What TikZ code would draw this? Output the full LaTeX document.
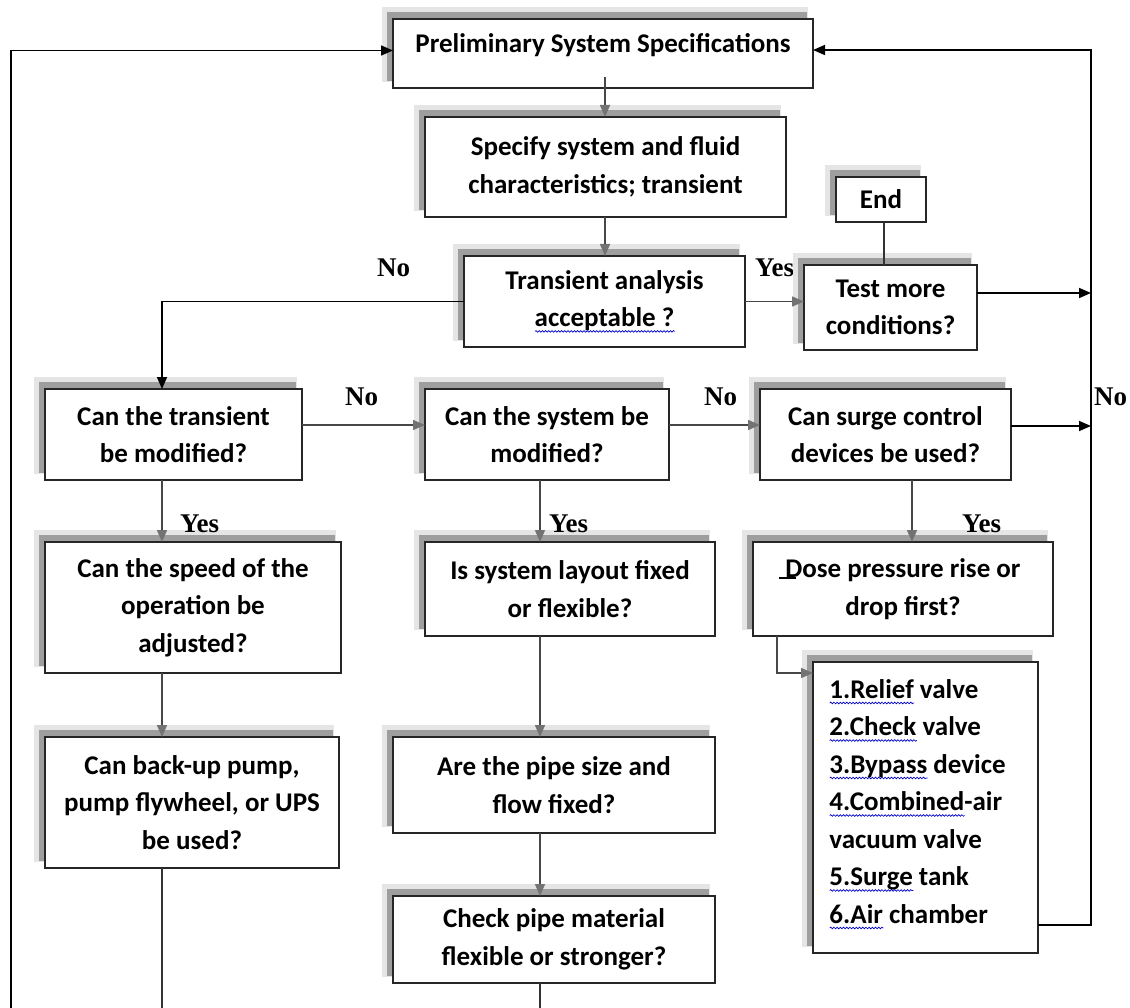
\documentclass[tikz,border=0pt]{standalone}
\usepackage{fontspec}
\setmainfont{Carlito}
\newfontfamily\labelfont{Liberation Serif}
\usetikzlibrary{arrows.meta,decorations.pathmorphing}
\newlength\spelllen
\newcommand\spell[1]{\settowidth\spelllen{#1}\rlap{\tikz[baseline=0pt]\draw[draw=blue!80!black,line width=0.7pt,decorate,decoration={snake,amplitude=0.8pt,segment length=3.2pt}](0pt,-4.5pt)--(\spelllen,-4.5pt);}#1}
\begin{document}
\begin{tikzpicture}[x=1pt,y=-1pt,
 box/.style={draw=black!85,line width=1.5pt,fill=white,align=center,inner sep=0pt,outer sep=0pt,anchor=north west,
   font=\fontsize{27}{37.5}\selectfont\bfseries,
   preaction={fill=black!10,draw=black!10,line width=6pt,transform canvas={xshift=-8pt,yshift=9pt}},
   preaction={fill=black!38,transform canvas={xshift=-6pt,yshift=7pt}}},
 yn/.style={font=\labelfont\bfseries\fontsize{27}{30}\selectfont,inner sep=0pt,anchor=base west},
 conn/.style={draw=black!72,line width=1.5pt,-{Triangle[length=12pt,width=10pt,color=black!55]}},
 plain/.style={draw=black!80,line width=1.5pt},
 loopar/.style={draw=black,line width=1.6pt,-{Triangle[length=12pt,width=10pt]}}]
\fill[white] (0,0) rectangle (1130,1008);
\useasboundingbox (0,0) rectangle (1130,1008);
% helper coordinates
\coordinate (c1) at (162,1008);
\coordinate (c2) at (540,1008);
\coordinate (c3) at (912,0);
\coordinate (c4) at (777,673);
\coordinate (cx) at (605,0);
\coordinate (ex) at (884,0);
\coordinate (bl) at (11,1008);
\coordinate (r0) at (1091,50);
\coordinate (r1) at (1091,925);
\coordinate (r2) at (1091,426);
\coordinate (r3) at (1091,293);
\coordinate (ry) at (0,425);
% label drawn under the Test box shadow
\node[yn] (yes1) at (755,277) {Yes};
% boxes
\node[box,minimum width=420pt,minimum height=69pt,text depth=20pt] (P) at (393,19) {Preliminary System Specifications};
\node[box,minimum width=361pt,minimum height=100pt] (S) at (425,117) {Specify system and fluid\\characteristics; transient};
\node[box,minimum width=281pt,minimum height=91pt] (T) at (464,256) {Transient analysis\\\spell{acceptable ?}};
\node[box,minimum width=90pt,minimum height=45pt] (E) at (836,177) {End};
\node[box,minimum width=173pt,minimum height=85pt] (TM) at (804,265) {Test more\\conditions?};
\node[box,minimum width=257pt,minimum height=91pt] (CT) at (45,389) {Can the transient\\be modified?};
\node[box,minimum width=244pt,minimum height=91pt] (CS) at (425,389) {Can the system be\\modified?};
\node[box,minimum width=251pt,minimum height=91pt] (CD) at (760,389) {Can surge control\\devices be used?};
\node[box,minimum width=296pt,minimum height=131pt] (SP) at (45,542) {Can the speed of the\\operation be\\adjusted?};
\node[box,minimum width=290pt,minimum height=94pt] (IS) at (425,542) {Is system layout fixed\\or flexible?};
\node[box,minimum width=300pt,minimum height=94pt] (DO) at (753,542) {\rlap{\hspace*{-6pt}\rule[-1pt]{17pt}{1.3pt}}Dose pressure rise or\\drop first?};
\node[box,minimum width=294pt,minimum height=131pt] (BU) at (45,737) {Can back-up pump,\\pump flywheel, or UPS\\be used?};
\node[box,minimum width=322pt,minimum height=96pt] (AR) at (393,737) {Are the pipe size and\\flow fixed?};
\node[box,minimum width=322pt,minimum height=87pt] (CH) at (393,896) {Check pipe material\\flexible or stronger?};
\node[box,minimum width=225pt,minimum height=291pt,align=left] (LI) at (813,662)
 {\mbox{\spell{1.Relief} valve}\\\mbox{\spell{2.Check} valve}\\\mbox{\spell{3.Bypass} device\hspace*{16pt}}\\\mbox{\spell{4.Combined}-air}\\\mbox{vacuum valve}\\\mbox{\spell{5.Surge} tank}\\\mbox{\spell{6.Air} chamber}\rule[-12pt]{0pt}{1pt}};
% yes / no labels
\node[yn] (no1) at (377,277) {No};
\node[yn] (no2) at (345,405) {No};
\node[yn] (no3) at (704,405) {No};
\node[yn] (no4) at (1094,405) {No};
\node[yn] (yes2) at (180,532) {Yes};
\node[yn] (yes3) at (549,532) {Yes};
\node[yn] (yes4) at (962,532) {Yes};
% connectors
\draw[conn] ([yshift=11pt]P.south -| cx) -- (S.north -| cx);
\draw[conn] (S.south -| cx) -- (T.north -| cx);
\draw[conn] (T.east) -- (T.east -| TM.west);
\draw[plain] (E.south -| ex) -- (TM.north -| ex);
\draw[loopar] (T.west) -| (CT.north -| c1);
\draw[conn] (CT.east |- ry) -- (CS.west |- ry);
\draw[conn] (CS.east |- ry) -- (CD.west |- ry);
\draw[loopar] (CD.east |- r2) -- (r2);
\draw[loopar] (TM.east |- r3) -- (r3);
\draw[conn] (CT.south -| c1) -- (SP.north -| c1);
\draw[conn] (SP.south -| c1) -- (BU.north -| c1);
\draw[plain] (BU.south -| c1) -- (c1);
\draw[conn] (CS.south -| c2) -- (IS.north -| c2);
\draw[conn] (IS.south -| c2) -- (AR.north -| c2);
\draw[conn] (AR.south -| c2) -- (CH.north -| c2);
\draw[plain] (CH.south -| c2) -- (c2);
\draw[conn] (CD.south -| c3) -- (DO.north -| c3);
\draw[conn] (DO.south -| c4) |- (LI.west |- c4);
\draw[loopar] (bl) |- ([yshift=3pt]P.west);
\draw[loopar] (LI.east |- r1) -- (r1) -- (r0) -- (P.east |- r0);
\end{tikzpicture}
\end{document}
